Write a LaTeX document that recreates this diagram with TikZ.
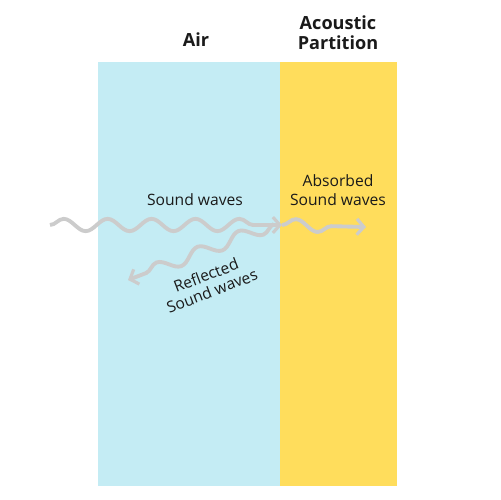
\documentclass[tikz,border=0pt]{standalone}
\usepackage{fontspec}
\setmainfont{Open Sans}
\usetikzlibrary{decorations.pathmorphing,arrows.meta}
\definecolor{airblue}{HTML}{C4ECF4}
\definecolor{partyellow}{HTML}{FFDD5C}
\definecolor{wavegray}{HTML}{CCCCCC}
\definecolor{txt}{HTML}{1A1A1A}
\begin{document}
\begin{tikzpicture}[x=0.02cm,y=-0.02cm,
  region/.style={draw=none,inner sep=0,anchor=north west},
  title/.style={font=\fontsize{10.3}{11.5}\selectfont\bfseries,text=txt,align=center},
  lbl/.style={font=\fontsize{8.9}{10.5}\selectfont,text=txt,align=center},
  wave/.style={draw=wavegray,line width=2.2pt,
    decorate,decoration={snake,segment length=25,amplitude=3.5,post length=8},
    -{Straight Barb[length=4pt,width=9pt,line width=1.8pt]}}
  ]
\useasboundingbox (0,0) rectangle (500,500);
\node[region,fill=airblue,minimum width=182*0.02cm,minimum height=424*0.02cm] (air) at (98,62) {};
\node[region,fill=partyellow,minimum width=117*0.02cm,minimum height=424*0.02cm] (part) at (280,62) {};
\node[title] (tair) at (196,40) {Air};
\node[title] (tpart) at (338,33) {Acoustic\\Partition};
\node[lbl] (lsw) at (195,200) {Sound waves};
\node[lbl] (labs) at (338,190) {Absorbed\\Sound waves};
\node[lbl,rotate=21,font=\fontsize{8.9}{9.6}\selectfont] (lref) at (209,283) {Reflected\\Sound waves};
\coordinate (w0) at (50,225);
\coordinate (w1) at (282,225);
\coordinate (w2) at (366,227);
\coordinate (r0) at (274,224);
\coordinate (r1) at (128,280);
\draw[wave] (w0) -- (w1);
\draw[wave] (w1) -- (w2);
\draw[wave] (r0) -- (r1);
\end{tikzpicture}
\end{document}
